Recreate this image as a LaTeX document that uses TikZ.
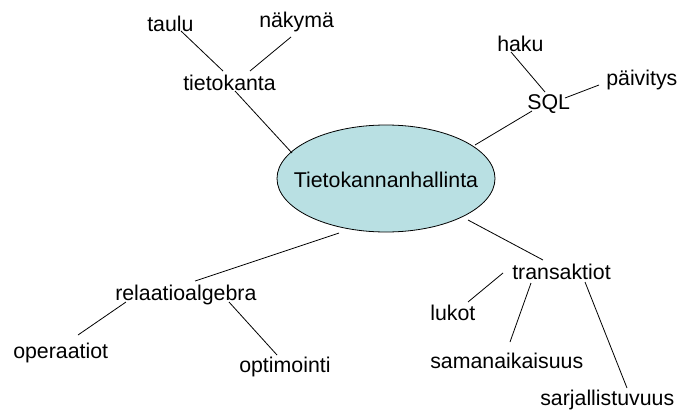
\documentclass[tikz,border=0pt]{standalone}
\usepackage{fontspec}
\setmainfont{Liberation Sans}
\usetikzlibrary{shapes.geometric}
\definecolor{hubfill}{RGB}{185,224,227}
\begin{document}
\begin{tikzpicture}[x=0.75pt,y=-0.75pt,
  lbl/.style={anchor=base west, inner sep=0pt, font=\fontsize{16}{19}\selectfont},
  hubstyle/.style={ellipse, draw, fill=hubfill, line width=0.6pt,
    minimum width=163.5pt, minimum height=80.25pt, inner sep=0pt},
  link/.style={line width=0.6pt}]
\useasboundingbox (0,0) rectangle (677,410);
% central node
\node[hubstyle] (hub) at (386,178.5) {};
\node[anchor=base, inner sep=0pt, font=\fontsize{16}{19}\selectfont] (hubtext) at (386,187) {Tietokannanhallinta};
% topic nodes
\node[lbl] (taulu) at (147,32) {taulu};
\node[lbl] (nakyma) at (259,28) {näkymä};
\node[lbl] (tietokanta) at (183,90) {tietokanta};
\node[lbl] (haku) at (497,52) {haku};
\node[lbl] (paivitys) at (606,85) {päivitys};
\node[lbl] (sql) at (527,109) {SQL};
\node[lbl] (relaatio) at (115,300) {relaatioalgebra};
\node[lbl] (operaatiot) at (13,358) {operaatiot};
\node[lbl] (optimointi) at (239,372) {optimointi};
\node[lbl] (transaktiot) at (512,279) {transaktiot};
\node[lbl] (lukot) at (430,320) {lukot};
\node[lbl] (saman) at (430,368) {samanaikaisuus};
\node[lbl] (sarja) at (540,405) {sarjallistuvuus};
% connectors
\draw[link] ([shift={(34,-1)}]taulu.base west) -- ([shift={(40,-19)}]tietokanta.base west);
\draw[link] ([shift={(32,9)}]nakyma.base west) -- ([shift={(67,-19)}]tietokanta.base west);
\draw[link] ([shift={(52,1)}]tietokanta.base west) -- ([shift={(-94,-25.5)}]hub.center);
\draw[link] ([shift={(14,0)}]haku.base west) -- ([shift={(18,-17)}]sql.base west);
\draw[link] ([shift={(-7,0)}]paivitys.base west) -- ([shift={(38,-11)}]sql.base west);
\draw[link] ([shift={(5,2)}]sql.base west) -- ([shift={(89,-33.5)}]hub.center);
\draw[link] ([shift={(80,-19)}]relaatio.base west) -- ([shift={(-47,54.5)}]hub.center);
\draw[link] ([shift={(11,2)}]relaatio.base west) -- ([shift={(65,-23)}]operaatiot.base west);
\draw[link] ([shift={(114,2)}]relaatio.base west) -- ([shift={(38,-17)}]optimointi.base west);
\draw[link] ([shift={(82,41.5)}]hub.center) -- ([shift={(31,-19)}]transaktiot.base west);
\draw[link] ([shift={(-9,-6)}]transaktiot.base west) -- ([shift={(38,-18)}]lukot.base west);
\draw[link] ([shift={(19,4)}]transaktiot.base west) -- ([shift={(80,-26)}]saman.base west);
\draw[link] ([shift={(73,3)}]transaktiot.base west) -- ([shift={(87,-17)}]sarja.base west);
\end{tikzpicture}
\end{document}
